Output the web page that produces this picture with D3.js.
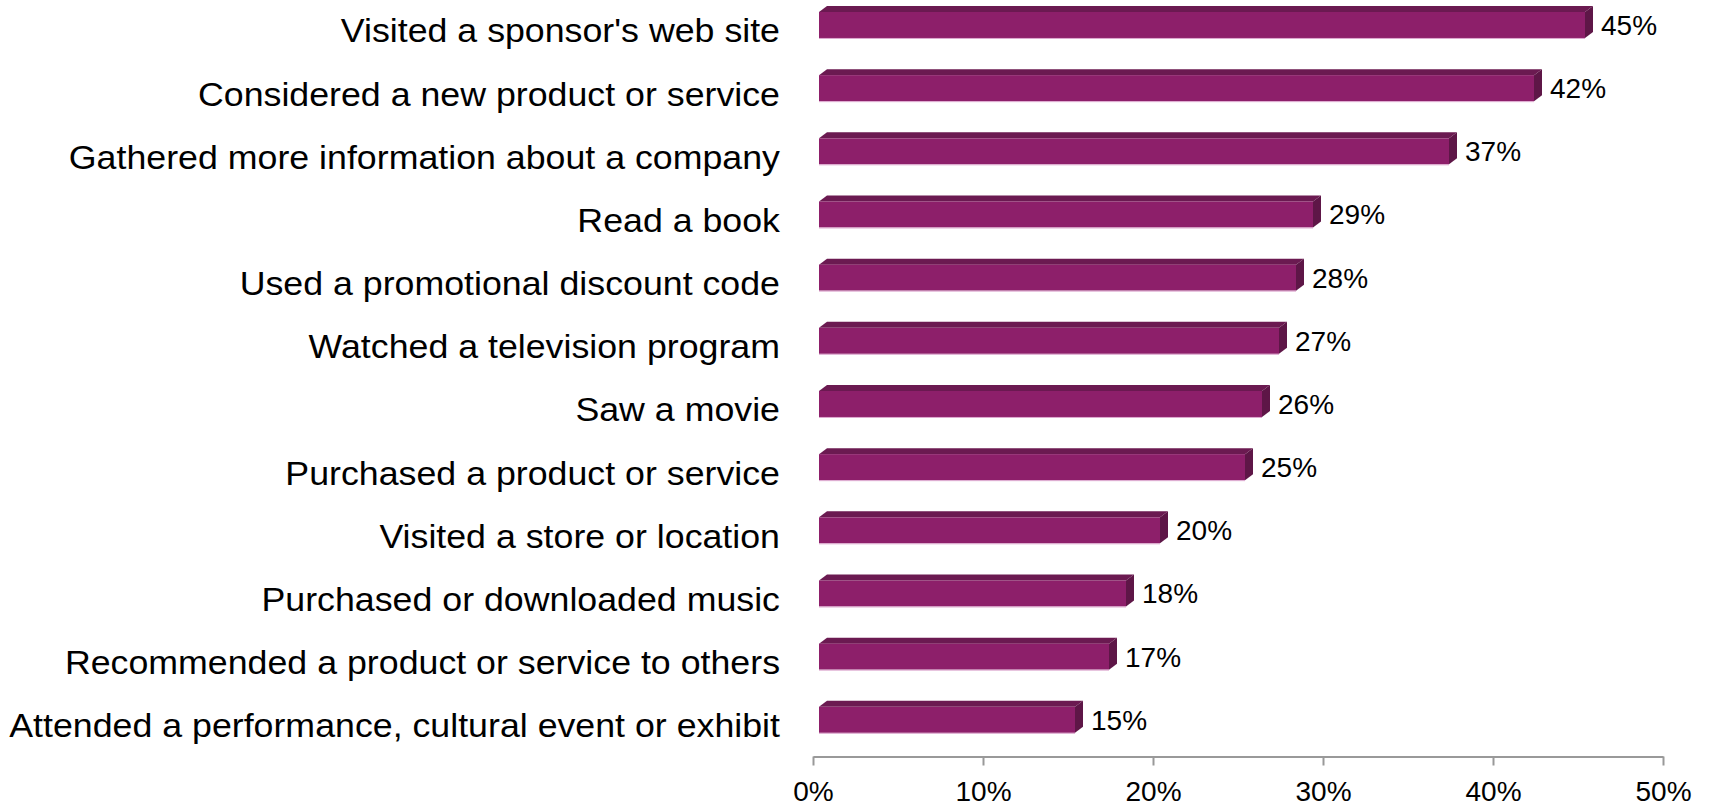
<!DOCTYPE html>
<html>
<head>
<meta charset="utf-8">
<script src="https://cdn.jsdelivr.net/npm/d3@7"></script>
<style>
  html, body { margin: 0; padding: 0; background: #ffffff; }
  svg { display: block; }
  text { font-family: "Liberation Sans", Arial, sans-serif; fill: #000; }
</style>
</head>
<body>
<svg id="chart" width="1709" height="808"></svg>
<script>
// Share of respondents who took each action
const categories = [
  "Visited a sponsor's web site",
  "Considered a new product or service",
  "Gathered more information about a company",
  "Read a book",
  "Used a promotional discount code",
  "Watched a television program",
  "Saw a movie",
  "Purchased a product or service",
  "Visited a store or location",
  "Purchased or downloaded music",
  "Recommended a product or service to others",
  "Attended a performance, cultural event or exhibit"
];
const values = [0.45, 0.42, 0.37, 0.29, 0.28, 0.27, 0.26, 0.25, 0.20, 0.18, 0.17, 0.15];
const tickValues = [0, 0.1, 0.2, 0.3, 0.4, 0.5];

const svg = d3.select("#chart");

const x = d3.scaleLinear().domain([0, 0.5]).range([813, 1663]);
const y = d3.scaleBand().domain(categories).range([-6.6, 751.4]).padding(0);

const fmt = d3.format(".0%");

// 3D bar geometry
const frontH = 26;   // height of the front face
const depthX = 8;    // horizontal extent of the bar's depth
const depthY = 6;    // vertical extent of the bar's depth
const inset = 6;     // front face sits slightly right of the zero line

const colFront = "#8d1f6a";
const colTop = "#6b1a51";
const colSide = "#5e1647";
const colEdge = "#dba6cd";

const labelRight = 780;   // right edge of the category labels
const labelLeft = 9;      // left edge of the longest category label

const rows = categories.map((c, i) => ({ c, v: values[i] }));
const mid = d => y(d.c) + y.bandwidth() / 2;

const bars = svg.append("g").selectAll("g").data(rows).join("g");

bars.each(function(d) {
  const g = d3.select(this);
  const cy = mid(d);
  const ft = cy - frontH / 2;
  const fb = cy + frontH / 2;
  const fl = x(0) + inset;
  const fr = x(d.v) + inset + 1;

  // top face
  g.append("path")
    .attr("d", `M${fl},${ft} L${fl + depthX},${ft - depthY} L${fr + depthX},${ft - depthY} L${fr},${ft} Z`)
    .attr("fill", colTop);
  // side face
  g.append("path")
    .attr("d", `M${fr},${ft} L${fr + depthX},${ft - depthY} L${fr + depthX},${fb - depthY} L${fr},${fb} Z`)
    .attr("fill", colSide);
  // front face
  g.append("rect")
    .attr("x", fl).attr("y", ft)
    .attr("width", fr - fl).attr("height", frontH)
    .attr("fill", colFront);
  // light lower edge
  g.append("line")
    .attr("x1", fl).attr("x2", fr)
    .attr("y1", fb + 0.5).attr("y2", fb + 0.5)
    .attr("stroke", colEdge).attr("stroke-width", 1);

  // value label
  g.append("text")
    .attr("x", fr + depthX + 8)
    .attr("y", cy + 10)
    .attr("font-size", 28)
    .text(fmt(d.v));
});

// Category labels, right-aligned against the bars and fitted to the left margin
const catG = svg.append("g");
const cats = catG.selectAll("text").data(rows).join("text")
  .attr("text-anchor", "end")
  .attr("font-size", 34)
  .text(d => d.c);
const widest = d3.max(cats.nodes(), n => n.getComputedTextLength());
const sx = (labelRight - labelLeft) / widest;
cats.attr("transform", d => `translate(${labelRight},${mid(d) + 17.5}) scale(${sx},1)`);

// Value axis along the bottom
const axis = svg.append("g")
  .attr("transform", "translate(0,756.5)")
  .call(d3.axisBottom(x).tickValues(tickValues).tickFormat(fmt).tickSize(9).tickPadding(14).tickSizeOuter(0));
axis.select(".domain").attr("stroke", "#999").attr("stroke-width", 2);
axis.selectAll(".tick line").attr("stroke", "#999").attr("stroke-width", 2);
axis.selectAll(".tick text")
  .attr("dy", null)
  .attr("y", 44.5)
  .attr("font-size", 28)
  .attr("font-family", "Liberation Sans, Arial, sans-serif")
  .attr("fill", "#000");
</script>
</body>
</html>
